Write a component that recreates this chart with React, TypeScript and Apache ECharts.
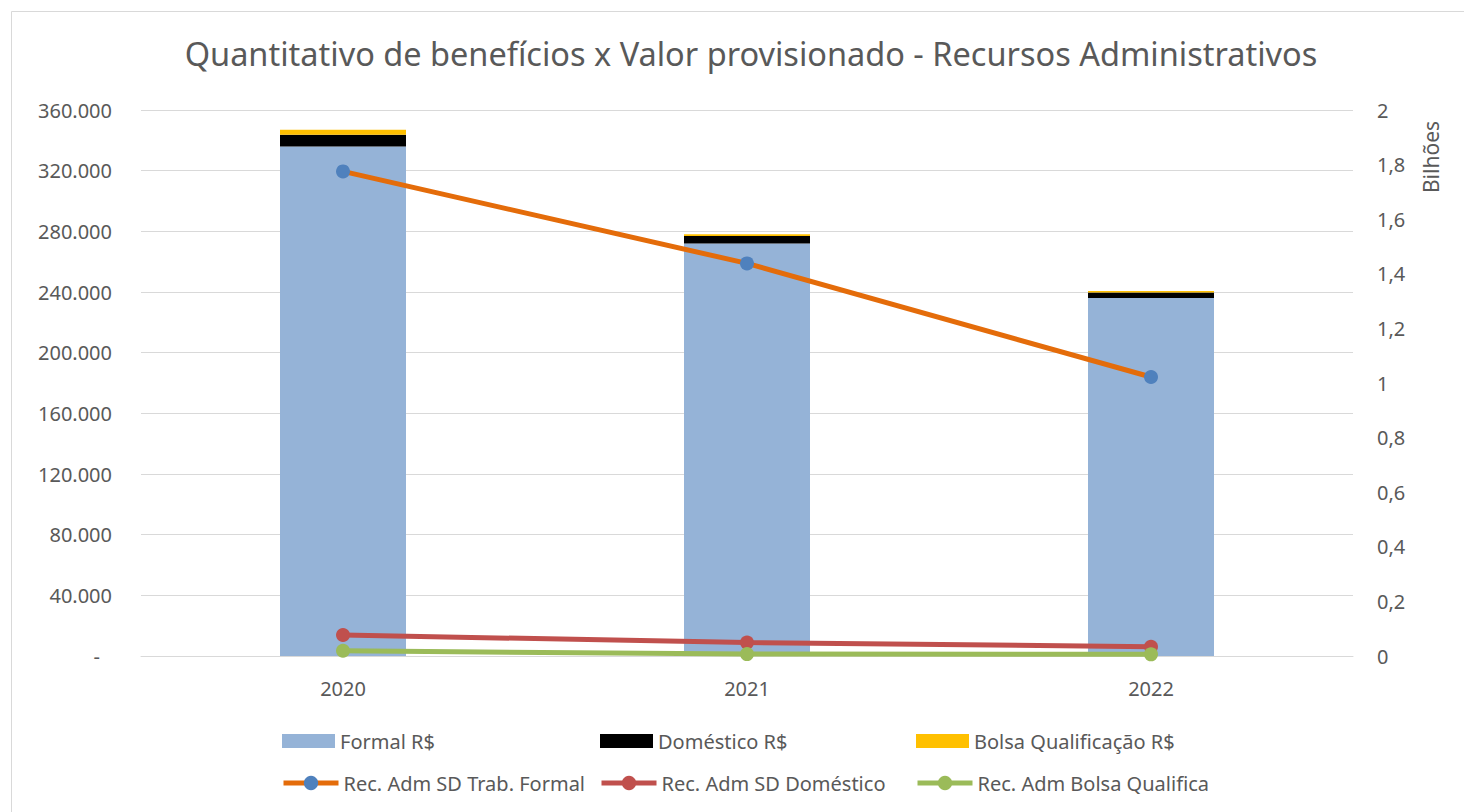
import React, { useEffect, useRef } from "react";
import * as echarts from "echarts";

const years = ["2020", "2021", "2022"];
const formalQty = [336000, 272000, 236000];
const domesticoQty = [7700, 5000, 3750];
const bolsaQty = [3300, 1100, 860];
const recFormal = [1.775e9, 1.438e9, 1.022e9];
const recDomestico = [0.077e9, 0.049e9, 0.034e9];
const recBolsa = [0.019e9, 0.007e9, 0.006e9];

const barNames = ["Formal R$", "Doméstico R$", "Bolsa Qualificação R$"];
const lineNames = ["Rec. Adm SD Trab. Formal", "Rec. Adm SD Doméstico", "Rec. Adm Bolsa Qualifica"];

const FONT = "Noto Sans";
const GREY = "#595959";

function fmtThousands(v: number): string {
  return String(Math.round(v)).replace(/\B(?=(\d{3})+(?!\d))/g, ".");
}

export default function App() {
  const ref = useRef<HTMLDivElement>(null);
  useEffect(() => {
    document.body.style.margin = "0";
    if (!ref.current) return;
    const chart = echarts.init(ref.current, null, { renderer: "svg" });
    const legendCols = [277, 595, 911];
    const barColors = ["#95B3D7", "#000000", "#FFC000"];
    const lineColors = ["#E46C0A", "#C0504D", "#9BBB59"];
    const markerColors = ["#4F81BD", "#C0504D", "#9BBB59"];
    const legends: any[] = [];
    barNames.forEach((n, i) => {
      legends.push({
        data: [n],
        left: legendCols[i],
        top: 726,
        itemWidth: 53,
        itemHeight: 14,
        itemGap: 0,
        textStyle: { fontFamily: FONT, fontSize: 20, color: GREY },
        icon: "rect",
      });
    });
    lineNames.forEach((n, i) => {
      legends.push({
        data: [n],
        left: legendCols[i] - 1,
        top: 768,
        itemWidth: 55,
        itemHeight: 18,
        itemGap: 0,
        textStyle: { fontFamily: FONT, fontSize: 20, color: GREY },
        lineStyle: { width: 5, color: lineColors[i] },
        itemStyle: { color: markerColors[i] },
      });
    });
    const barData = [formalQty, domesticoQty, bolsaQty];
    const lineData = [recFormal, recDomestico, recBolsa];
    chart.setOption({
      animation: false,
      backgroundColor: "#ffffff",
      textStyle: { fontFamily: FONT },
      title: {
        text: "Quantitativo de benefícios x Valor provisionado - Recursos Administrativos",
        left: 746,
        textAlign: "center",
        top: 32,
        textStyle: { fontFamily: FONT, fontSize: 32.5, fontWeight: "normal", color: GREY },
      },
      graphic: [
        {
          type: "rect",
          shape: { x: 11.5, y: 11.5, width: 1470, height: 820 },
          style: { fill: "none", stroke: "#D9D9D9", lineWidth: 1 },
          silent: true,
        },
        {
          type: "text",
          x: 1431,
          y: 157,
          rotation: Math.PI / 2,
          style: {
            text: "Bilhões",
            fontFamily: FONT,
            fontSize: 21,
            fill: GREY,
            align: "center",
            verticalAlign: "middle",
          },
        },
      ],
      legend: legends,
      grid: { left: 141, right: 111, top: 110, bottom: 156, containLabel: false },
      xAxis: {
        type: "category",
        data: years,
        axisLine: { show: true, lineStyle: { color: "#D9D9D9", width: 1 } },
        axisTick: { show: false },
        axisLabel: { color: GREY, fontSize: 20, fontFamily: FONT, margin: 22 },
      },
      yAxis: [
        {
          type: "value",
          min: 0,
          max: 360000,
          interval: 40000,
          axisLine: { show: false },
          axisTick: { show: false },
          splitLine: { lineStyle: { color: "#D9D9D9", width: 1 } },
          axisLabel: {
            color: GREY,
            fontSize: 20,
            fontFamily: FONT,
            margin: 29,
            formatter: (v: number) => (v === 0 ? "{z|-}" : fmtThousands(v)),
            rich: { z: { color: GREY, fontSize: 20, fontFamily: FONT, padding: [0, 12, 0, 0] } },
          },
        },
        {
          type: "value",
          min: 0,
          max: 2e9,
          interval: 2e8,
          position: "right",
          axisLine: { show: false },
          axisTick: { show: false },
          splitLine: { show: false },
          axisLabel: {
            color: GREY,
            fontSize: 20,
            fontFamily: FONT,
            margin: 24,
            formatter: (v: number) => String(Math.round(v / 1e8) / 10).replace(".", ","),
          },
        },
      ],
      series: [
        ...barNames.map((n, i) => ({
          name: n,
          type: "bar",
          stack: "qty",
          yAxisIndex: 0,
          barWidth: 126,
          itemStyle: { color: barColors[i] },
          data: barData[i],
        })),
        ...lineNames.map((n, i) => ({
          name: n,
          type: "line",
          yAxisIndex: 1,
          symbol: "circle",
          symbolSize: 14,
          lineStyle: { color: lineColors[i], width: 5 },
          itemStyle: { color: markerColors[i] },
          data: lineData[i],
          z: 3,
        })),
      ],
    });
    return () => chart.dispose();
  }, []);
  return <div ref={ref} style={{ width: 1464, height: 812 }} />;
}
